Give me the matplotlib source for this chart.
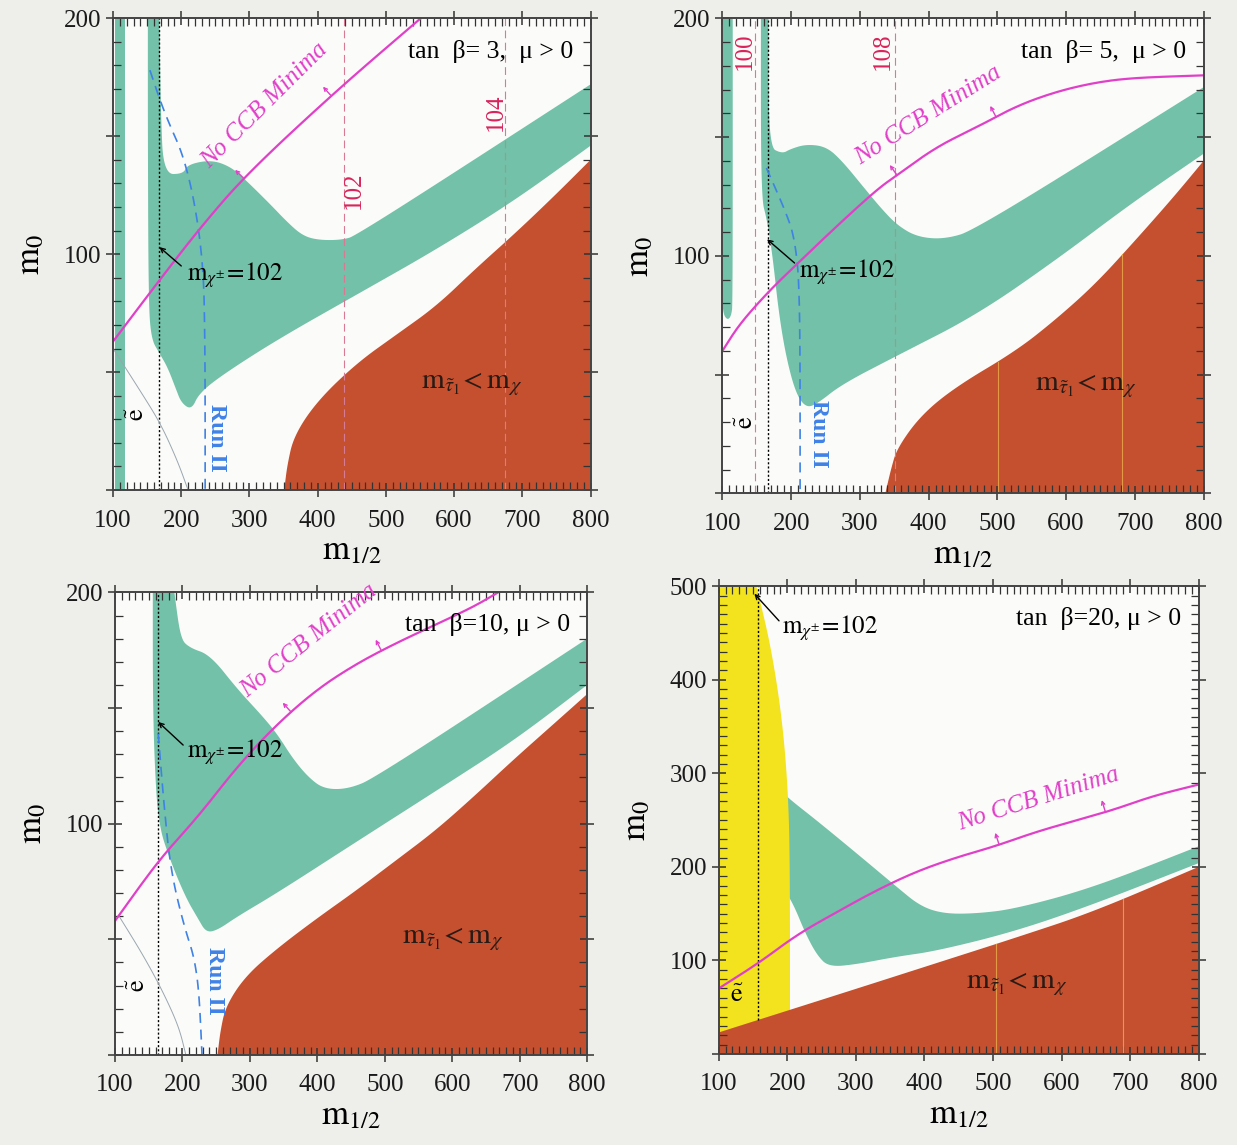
import numpy as np
import matplotlib
matplotlib.use('Agg')
import matplotlib.pyplot as plt
from matplotlib.ticker import MultipleLocator, FuncFormatter

plt.rcParams['font.family'] = ['Liberation Serif', 'DejaVu Serif']
plt.rcParams['mathtext.fontset'] = 'stix'

# ──────────────────────────────────────────────────────────────
# Data (m_1/2, m_0 in GeV)
# ──────────────────────────────────────────────────────────────
TITLES = ['tan  β= 3,  μ > 0', 'tan  β= 5,  μ > 0',
          'tan  β=10, μ > 0', 'tan  β=20, μ > 0']
YMAX = [200, 200, 200, 500]

# cosmologically preferred (teal) regions
P1_TEAL_X = [151, 168, 170, 174, 203, 209, 244, 273, 296, 331, 354, 377, 400, 435, 458,
             800, 800, 690, 574, 458, 342, 261, 226, 215, 200, 192, 180, 168, 156, 152, 151]
P1_TEAL_Y = [200, 200, 160, 134, 134, 138, 140, 137, 131, 121, 114, 108, 106, 106, 108,
             172, 146, 123, 102, 83, 64, 49, 41, 34, 37, 43, 52, 58, 64, 80, 150]
P1_STRIP_X = [103, 118, 118, 103]
P1_STRIP_Y = [0, 0, 200, 200]

P2_TEAL_X = [156, 167, 167, 187, 199, 222, 251, 274, 308, 331, 354, 383, 423, 469,
             800, 800, 699, 584, 469, 354, 274, 239, 222, 207, 193, 182, 173, 165, 156]
P2_TEAL_Y = [200, 200, 146, 143, 145, 147, 146, 140, 128, 120, 113, 108, 107, 111,
             171, 143, 123, 98, 75, 58, 46, 38, 36, 42, 57, 76, 100, 115, 125]
P2_STRIP_X = [100, 115, 115, 113, 108, 102, 100]
P2_STRIP_Y = [200, 200, 80, 75, 73, 75, 80]

P3_TEAL_X = [156, 188, 197, 211, 241, 282, 317, 340, 364, 387, 410, 446, 487,
             800, 800, 692, 575, 457, 340, 282, 252, 235, 223, 205, 182, 164, 158, 156]
P3_TEAL_Y = [200, 200, 180, 176, 173, 158, 147, 139, 128, 120, 115, 115, 120,
             180, 160, 136, 114, 92, 70, 60, 54, 53, 59, 68, 84, 100, 130, 160]

P4_TEAL_X = [190, 204, 244, 302, 359, 394, 428, 474, 532, 647, 800,
             800, 647, 532, 417, 359, 302, 261, 244, 227, 209, 196, 190]
P4_TEAL_Y = [282, 272, 249, 214, 179, 158, 150, 150, 155, 178, 222,
             204, 160, 131, 110, 104, 96, 93, 105, 128, 160, 175, 200]
P4_YELLOW_X = [100, 155, 175, 192, 201, 204, 204, 100]
P4_YELLOW_Y = [500, 500, 440, 362, 284, 206, 0, 0]

# stau LSP (red) boundary
P1_RED_X = [351, 355, 365, 400, 458, 516, 574, 632, 690, 748, 800]
P1_RED_Y = [0, 10, 23, 38, 54, 66, 78, 94, 109, 125, 140]
P2_RED_X = [337, 345, 354, 389, 440, 527, 584, 642, 699, 757, 800]
P2_RED_Y = [0, 10, 19, 33, 45, 60, 73, 88, 106, 125, 140]
P3_RED_X = [252, 256, 264, 293, 340, 399, 457, 516, 575, 633, 692, 750, 800]
P3_RED_Y = [0, 10, 21, 34, 46, 59, 71, 84, 97, 112, 128, 143, 156]
P4_RED_X = [100, 186, 302, 417, 532, 647, 800]
P4_RED_Y = [23, 43, 70, 97, 124, 152, 200]

# "No CCB Minima" contour
P1_CCB_X = [100, 168, 230, 296, 430, 551]
P1_CCB_Y = [63, 89, 112, 134, 170, 200]
P2_CCB_X = [100, 124, 167, 210, 268, 325, 354, 412, 469, 527, 584, 642, 699, 800]
P2_CCB_Y = [60, 71, 85, 97, 113, 128, 134, 146, 154, 163, 169, 173, 175, 176]
P3_CCB_X = [100, 164, 223, 282, 340, 399, 457, 516, 575, 633, 668]
P3_CCB_Y = [58, 84, 103, 125, 143, 158, 169, 178, 186, 194, 200]
P4_CCB_X = [100, 158, 215, 273, 330, 388, 446, 503, 561, 618, 676, 734, 800]
P4_CCB_Y = [70, 97, 128, 152, 175, 195, 210, 222, 237, 249, 261, 276, 288]

# Tevatron Run II reach
P1_RUN_X = [154, 175, 209, 232, 235, 235]
P1_RUN_Y = [178, 160, 138, 100, 60, 0]
P2_RUN_X = [164, 190, 205, 213, 213]
P2_RUN_Y = [137, 120, 108, 85, 0]
P3_RUN_X = [164, 172, 182, 200, 223, 229]
P3_RUN_Y = [139, 110, 81, 58, 37, 0]

# selectron limit (thin grey)
P1_SEL_X = [100, 140, 170, 195, 210]
P1_SEL_Y = [60, 42, 28, 12, 0]
P3_SEL_X = [106, 140, 170, 195, 205]
P3_SEL_Y = [60, 44, 28, 12, 0]

CHARGINO_X = [168, 167, 164, 158]

P1_HIGGS_X, P1_HIGGS_LAB = [438, 675], ['102', '104']
P2_HIGGS_X, P2_HIGGS_LAB = [147, 351], ['100', '108']
P2_FAINT_X = [501, 682]
P4_FAINT_X = [505, 690]

# ──────────────────────────────────────────────────────────────
TEAL = '#72c1a8'
RED = '#c4502f'
YELLOW = '#f3e21e'
MAGENTA = '#e040c8'
BLUE = '#3f82e6'
CRIMSON = '#d8245c'
BG = '#eeefeb'


def chaikin(xs, ys, n=4):
    """Corner-cutting smoothing of an open polyline, endpoints kept."""
    pts = np.column_stack([xs, ys]).astype(float)
    for _ in range(n):
        if len(pts) < 3:
            break
        a, b = pts[:-1], pts[1:]
        q = 0.75 * a + 0.25 * b
        r = 0.25 * a + 0.75 * b
        mid = np.empty((2 * len(a), 2))
        mid[0::2], mid[1::2] = q, r
        pts = np.vstack([pts[:1], mid[1:-1], pts[-1:]])
    return pts[:, 0], pts[:, 1]


def smooth_region(xs, ys, ymax):
    """Smooth a closed outline, keeping the vertices that sit on the frame."""
    xs, ys = list(xs), list(ys)
    on_edge = [x <= 100 or x >= 800 or y <= 0 or y >= ymax for x, y in zip(xs, ys)]
    if not any(on_edge):
        return chaikin(xs + xs[:1], ys + ys[:1])
    k = on_edge.index(True)
    xs, ys, on_edge = xs[k:] + xs[:k] + [xs[k]], ys[k:] + ys[:k] + [ys[k]], on_edge[k:] + on_edge[:k] + [True]
    outx, outy = [], []
    start = 0
    for j in range(1, len(xs)):
        if on_edge[j]:
            cx, cy = chaikin(xs[start:j + 1], ys[start:j + 1])
            outx += list(cx[:-1])
            outy += list(cy[:-1])
            start = j
    return outx, outy


panels = [
    dict(pos=[0.0914, 0.572, 0.386, 0.412], teal=[(P1_TEAL_X, P1_TEAL_Y), (P1_STRIP_X, P1_STRIP_Y)],
         red=(P1_RED_X, P1_RED_Y), ccb=(P1_CCB_X, P1_CCB_Y), run=(P1_RUN_X, P1_RUN_Y),
         sel=(P1_SEL_X, P1_SEL_Y), higgs=(P1_HIGGS_X, P1_HIGGS_LAB, [(453, 127), (661, 160)]),
         faint=[], ccb_txt=(322, 163), ccb_arr=[292, 420], chi_txt=(209, 91), chi_tail=(200, 95),
         chi_head=(168, 103), stau=(625, 45), run_txt=(251, 22), sel_txt=(136, 32, 90)),
    dict(pos=[0.584, 0.569, 0.389, 0.415], teal=[(P2_TEAL_X, P2_TEAL_Y), (P2_STRIP_X, P2_STRIP_Y)],
         red=(P2_RED_X, P2_RED_Y), ccb=(P2_CCB_X, P2_CCB_Y), run=(P2_RUN_X, P2_RUN_Y),
         sel=None, higgs=(P2_HIGGS_X, P2_HIGGS_LAB, [(132, 186), (333, 186)]),
         faint=P2_FAINT_X, ccb_txt=(400, 159), ccb_arr=[354, 498], chi_txt=(211, 93),
         chi_tail=(205, 97), chi_head=(165, 107), stau=(628, 45), run_txt=(240, 25),
         sel_txt=(136, 30, 90)),
    dict(pos=[0.093, 0.0786, 0.3816, 0.404], teal=[(P3_TEAL_X, P3_TEAL_Y)],
         red=(P3_RED_X, P3_RED_Y), ccb=(P3_CCB_X, P3_CCB_Y), run=(P3_RUN_X, P3_RUN_Y),
         sel=(P3_SEL_X, P3_SEL_Y), higgs=None, faint=[], ccb_txt=(388, 179),
         ccb_arr=[361, 495], chi_txt=(207, 131), chi_tail=(201, 134), chi_head=(164, 144),
         stau=(600, 50), run_txt=(248, 32), sel_txt=(135, 30, 90)),
    dict(pos=[0.581, 0.0795, 0.388, 0.4085], teal=[(P4_TEAL_X, P4_TEAL_Y)],
         red=(P4_RED_X, P4_RED_Y), ccb=(P4_CCB_X, P4_CCB_Y), run=None,
         sel=None, higgs=None, faint=P4_FAINT_X, ccb_txt=(567, 272),
         ccb_arr=[509, 664], chi_txt=(192, 455), chi_tail=(188, 463), chi_head=(152, 492),
         stau=(535, 75), run_txt=None, sel_txt=(126, 62, 0), yellow=(P4_YELLOW_X, P4_YELLOW_Y)),
]

fig = plt.figure(figsize=(12.37, 11.45), dpi=100, facecolor=BG)

for i, p in enumerate(panels):
    ax = fig.add_axes(p['pos'])
    ax.set_facecolor('#fbfbf9')
    ymax = YMAX[i]
    ax.set_xlim(100, 800)
    ax.set_ylim(0, ymax)

    for tx, ty in p['teal']:
        ax.fill(*smooth_region(tx, ty, ymax), color=TEAL, lw=0, zorder=1.0)
    if 'yellow' in p:
        ax.fill(*smooth_region(*p['yellow'], ymax), color=YELLOW, lw=0, zorder=1.2)
    rx, ry = p['red']
    red_x, red_y = list(rx) + [800], list(ry) + [0]
    if ry[0] > 0:
        red_x.append(rx[0])
        red_y.append(0)
    ax.fill(*smooth_region(red_x, red_y, ymax), color=RED, lw=0, zorder=1.4)
    for fx in p['faint']:
        ax.plot([fx, fx], [0, np.interp(fx, rx, ry)], color='#e39a45', lw=0.8, zorder=1.6)

    # chargino limit
    cbot = np.interp(CHARGINO_X[i], rx, ry) if i == 3 else 0
    ax.plot([CHARGINO_X[i]] * 2, [cbot, ymax], color='black', ls=(0, (1.5, 1.5)), lw=1.0, zorder=3)

    if p['run'] is not None:
        ax.plot(*chaikin(*p['run']), color=BLUE, ls=(0, (6, 4)), lw=1.2, zorder=3)
        ax.text(p['run_txt'][0], p['run_txt'][1], 'Run II', color=BLUE, rotation=-90,
                fontsize=17, fontweight='bold', ha='center', va='center', zorder=6)
    if p['sel'] is not None:
        ax.plot(*chaikin(*p['sel']), color='#9aa6b0', lw=0.7, zorder=3)

    if p['higgs'] is not None:
        hx, hl, hpos = p['higgs']
        for x, lab, (lx, ly) in zip(hx, hl, hpos):
            ax.plot([x, x], [0, ymax], color='#d97a95', ls=(0, (7, 4)), lw=0.8, zorder=2)
            ax.text(lx, ly, lab, color=CRIMSON, rotation=90, fontsize=18,
                    ha='center', va='center', zorder=6)

    # CCB line with label and arrows
    cx, cy = chaikin(*p['ccb'])
    ax.plot(cx, cy, color=MAGENTA, lw=1.6, zorder=4)

    def screen_angle(x0, w=15):
        a = ax.transData.transform((x0 - w, np.interp(x0 - w, cx, cy)))
        b = ax.transData.transform((x0 + w, np.interp(x0 + w, cx, cy)))
        return np.degrees(np.arctan2(b[1] - a[1], b[0] - a[0]))
    tx, ty = p['ccb_txt']
    ax.text(tx, ty, 'No CCB Minima', color=MAGENTA, style='italic', fontsize=18,
            rotation=screen_angle(tx, 60), rotation_mode='anchor', ha='center', va='center', zorder=6)
    for ax0 in p['ccb_arr']:
        th = np.radians(screen_angle(ax0))
        ay = np.interp(ax0, cx, cy)
        ax.annotate('', xy=(ax0, ay), xytext=(-9 * np.sin(th), 9 * np.cos(th)),
                    textcoords='offset points',
                    arrowprops=dict(arrowstyle='<-', color=MAGENTA, lw=1.0,
                                    shrinkA=0, shrinkB=0, mutation_scale=6), zorder=6)

    # chargino label
    ax.annotate('', xy=p['chi_head'], xytext=p['chi_tail'],
                arrowprops=dict(arrowstyle='->', color='black', lw=1.0, shrinkA=0, shrinkB=0,
                                mutation_scale=8), zorder=7)
    ax.text(p['chi_txt'][0], p['chi_txt'][1], r'$\mathrm{m}_{\chi^{\pm}}\!=\!102$',
            fontsize=18, ha='left', va='center', zorder=7)

    ax.text(p['stau'][0], p['stau'][1], r'$\mathrm{m}_{\tilde{\tau}_1}\!<\mathrm{m}_{\chi}$',
            fontsize=21, ha='center', va='center', color='#2a1a15', zorder=7)
    sx, sy, srot = p['sel_txt']
    ax.text(sx, sy, r'$\tilde{\mathrm{e}}$', fontsize=19, rotation=srot,
            ha='center', va='center', zorder=7)

    ax.text(0.964, 0.93, TITLES[i], transform=ax.transAxes, fontsize=18.5,
            ha='right', va='center', zorder=8)

    # axes styling
    ax.xaxis.set_major_locator(MultipleLocator(100))
    ax.xaxis.set_minor_locator(MultipleLocator(10))
    if ymax == 200:
        ax.yaxis.set_major_locator(MultipleLocator(50))
        ax.yaxis.set_major_formatter(FuncFormatter(lambda v, _: f'{v:.0f}' if v in (100, 200) else ''))
    else:
        ax.yaxis.set_major_locator(MultipleLocator(100))
        ax.yaxis.set_major_formatter(FuncFormatter(lambda v, _: f'{v:.0f}' if v > 0 else ''))
    ax.yaxis.set_minor_locator(MultipleLocator(10))
    ax.tick_params(which='both', top=True, right=True, labelsize=18, colors='#333333',
                   labelcolor='#1a1a1a')
    ax.tick_params(which='major', direction='inout', length=10, width=1.1)
    ax.tick_params(which='minor', direction='in', length=6, width=0.9)
    ax.tick_params(axis='x', which='major', pad=9)
    for sp in ax.spines.values():
        sp.set_color('#444444')
        sp.set_linewidth(1.4)
        sp.set_zorder(5)
    ax.set_xlabel(r'$\mathrm{m}_{1/2}$', fontsize=25, labelpad=2)
    ax.set_ylabel(r'$\mathrm{m}_{0}$', fontsize=25, labelpad=12)

fig.savefig('out.png', dpi=100, facecolor=BG)
